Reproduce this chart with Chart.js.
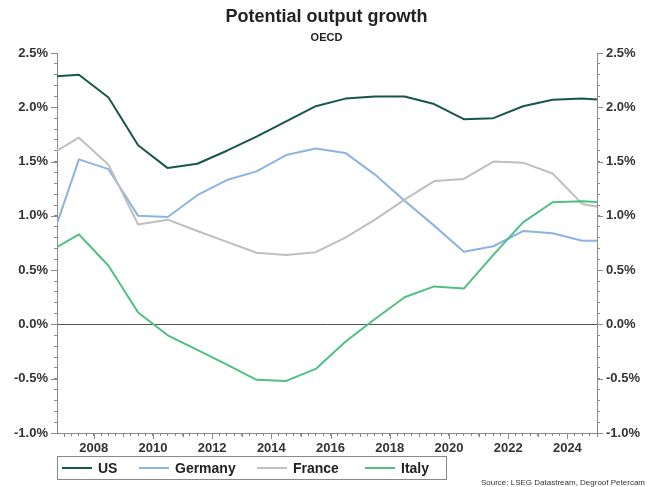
<!DOCTYPE html>
<html>
<head>
<meta charset="utf-8">
<script src="https://cdn.jsdelivr.net/npm/chart.js@4.4.1/dist/chart.umd.min.js"></script>
<style>
  html, body { margin: 0; padding: 0; background: #fff; }
  #wrap { position: relative; width: 651px; height: 487px; font-family: "Liberation Sans", Arial, sans-serif; color: #222; }
  #chart { position: absolute; left: 0; top: 0; }
  .title { position: absolute; left: 1px; top: 6px; width: 651px; text-align: center; font-weight: bold; font-size: 18px; line-height: 21px; }
  .subtitle { position: absolute; left: 1px; top: 31px; width: 651px; text-align: center; font-weight: bold; font-size: 11px; line-height: 13px; }
  .legend { position: absolute; left: 57px; top: 456px; width: 390px; height: 24px; border: 1px solid #8a8a8a; box-sizing: border-box; }
  .legend .item { position: absolute; top: 0; height: 22px; line-height: 22px; font-weight: bold; font-size: 14px; }
  .legend .swatch { position: absolute; top: 10px; width: 30px; height: 2px; }
  .legend .label { position: absolute; top: 0; left: 36px; white-space: nowrap; }
  .source { position: absolute; right: 6px; top: 478px; font-size: 8px; line-height: 9px; color: #333; }
</style>
</head>
<body>
<div id="wrap">
  <canvas id="chart" width="651" height="487"></canvas>
  <div class="title">Potential output growth</div>
  <div class="subtitle">OECD</div>
  <div class="legend" id="legend"></div>
  <div class="source">Source: LSEG Datastream, Degroof Petercam</div>
</div>
<script>
(function () {
  const el = document.getElementById('chart');

  const COLORS = {
    us: '#17574a',
    germany: '#8db3e2',
    france: '#bfbfbf',
    italy: '#4fc083',
    axis: '#8a8a8a',
    zero: '#555555',
    text: '#333333'
  };

  // annual values, plotted mid-year
  const YEARS   = [2006, 2007, 2008, 2009, 2010, 2011, 2012, 2013, 2014, 2015, 2016, 2017, 2018, 2019, 2020, 2021, 2022, 2023, 2024, 2025];
  const US      = [2.28, 2.30, 2.09, 1.65, 1.44, 1.48, 1.60, 1.73, 1.87, 2.01, 2.08, 2.10, 2.10, 2.03, 1.89, 1.90, 2.01, 2.07, 2.08, 2.065];
  const GERMANY = [0.72, 1.52, 1.43, 1.00, 0.99, 1.19, 1.33, 1.41, 1.56, 1.62, 1.58, 1.38, 1.14, 0.91, 0.67, 0.72, 0.86, 0.84, 0.77, 0.77];
  const FRANCE  = [1.56, 1.72, 1.47, 0.92, 0.965, 0.86, 0.76, 0.66, 0.64, 0.665, 0.80, 0.965, 1.15, 1.32, 1.34, 1.50, 1.49, 1.39, 1.11, 1.06];
  const ITALY   = [0.67, 0.83, 0.54, 0.11, -0.10, -0.235, -0.37, -0.51, -0.52, -0.41, -0.16, 0.05, 0.25, 0.35, 0.33, 0.64, 0.94, 1.125, 1.135, 1.12];

  const SERIES = [
    { label: 'US', values: US, color: COLORS.us },
    { label: 'Germany', values: GERMANY, color: COLORS.germany },
    { label: 'France', values: FRANCE, color: COLORS.france },
    { label: 'Italy', values: ITALY, color: COLORS.italy }
  ];

  const X_MIN = 2006.76, X_MAX = 2025.0;
  const Y_MIN = -1.0, Y_MAX = 2.5;
  const FONT = 'Liberation Sans, Arial, sans-serif';

  // legend (HTML)
  const LEGEND_X = [4, 81, 199, 307];
  const legend = document.getElementById('legend');
  SERIES.forEach((s, i) => {
    const item = document.createElement('div');
    item.className = 'item';
    item.style.left = LEGEND_X[i] + 'px';
    item.innerHTML = '<div class="swatch" style="background:' + s.color + '"></div><div class="label">' + s.label + '</div>';
    legend.appendChild(item);
  });

  // quarterly ticks on x, 0.1% ticks on y
  function quarterTicks(scale) {
    const out = [];
    for (let k = Math.ceil(X_MIN * 4); k <= Math.floor(X_MAX * 4); k++) out.push({ value: k / 4 });
    scale.ticks = out;
  }
  function tenthTicks(scale) {
    const out = [];
    for (let i = Math.round(Y_MIN * 10); i <= Math.round(Y_MAX * 10); i++) out.push({ value: i / 10 });
    scale.ticks = out;
  }
  const yLabel = (v) => (Math.round(v * 10) % 5 === 0 ? v.toFixed(1) + '%' : '');

  // longer ticks for years and 0.5% steps
  const MajorTicks = {
    id: 'MajorTicks',
    afterDraw(chart) {
      const { ctx, chartArea, scales } = chart;
      ctx.save();
      ctx.strokeStyle = COLORS.axis;
      ctx.lineWidth = 1;
      ctx.beginPath();
      scales.x.ticks.forEach(t => {
        if (!Number.isInteger(t.value)) return;
        const px = Math.round(scales.x.getPixelForValue(t.value)) + 0.5;
        ctx.moveTo(px, chartArea.bottom);
        ctx.lineTo(px, chartArea.bottom + (t.value % 2 === 0 ? 6 : 4));
      });
      scales.y.ticks.forEach(t => {
        if (Math.round(t.value * 10) % 5 !== 0) return;
        const py = Math.round(scales.y.getPixelForValue(t.value)) + 0.5;
        ctx.moveTo(chartArea.left - 6, py); ctx.lineTo(chartArea.left, py);
        ctx.moveTo(chartArea.right, py); ctx.lineTo(chartArea.right + 6, py);
      });
      ctx.stroke();
      ctx.restore();
    }
  };

  const tickFont = { family: FONT, size: 13, weight: 'bold' };

  new Chart(el, {
    type: 'line',
    data: {
      datasets: SERIES.map(s => ({
        label: s.label,
        data: s.values.map((v, i) => ({ x: YEARS[i] + 0.5, y: v })),
        borderColor: s.color,
        borderWidth: 2,
        pointRadius: 0,
        tension: 0,
        fill: false,
        clip: 0
      })).reverse()
    },
    options: {
      responsive: false,
      animation: false,
      layout: { padding: { top: 53, right: 0, bottom: 32, left: 0 } },
      plugins: { legend: { display: false }, tooltip: { enabled: false }, title: { display: false } },
      elements: { line: { borderJoinStyle: 'round', borderCapStyle: 'butt' } },
      scales: {
        x: {
          type: 'linear',
          min: X_MIN,
          max: X_MAX,
          afterBuildTicks: quarterTicks,
          afterFit: (s) => { s.height = 22; },
          grid: { drawOnChartArea: false, drawTicks: true, tickLength: 3, color: COLORS.axis },
          border: { display: true, color: COLORS.axis },
          ticks: {
            autoSkip: false,
            maxRotation: 0,
            padding: 5,
            color: COLORS.text,
            font: tickFont,
            callback: (v) => (Number.isInteger(v) && v % 2 === 0 ? String(v) : '')
          }
        },
        y: {
          position: 'left',
          min: Y_MIN,
          max: Y_MAX,
          afterBuildTicks: tenthTicks,
          afterFit: (s) => { s.width = 57; },
          grid: {
            drawOnChartArea: true,
            drawTicks: true,
            tickLength: 3,
            color: (c) => (c.tick && c.tick.value === 0 ? COLORS.zero : 'rgba(0,0,0,0)'),
            tickColor: COLORS.axis
          },
          border: { display: true, color: COLORS.axis },
          ticks: { autoSkip: false, padding: 6, color: COLORS.text, font: tickFont, callback: yLabel }
        },
        y2: {
          position: 'right',
          min: Y_MIN,
          max: Y_MAX,
          afterBuildTicks: tenthTicks,
          afterFit: (s) => { s.width = 54; },
          grid: { drawOnChartArea: false, drawTicks: true, tickLength: 3, color: COLORS.axis },
          border: { display: true, color: COLORS.axis },
          ticks: { autoSkip: false, padding: 6, color: COLORS.text, font: tickFont, callback: yLabel }
        }
      }
    },
    plugins: [MajorTicks]
  });
})();
</script>
</body>
</html>
